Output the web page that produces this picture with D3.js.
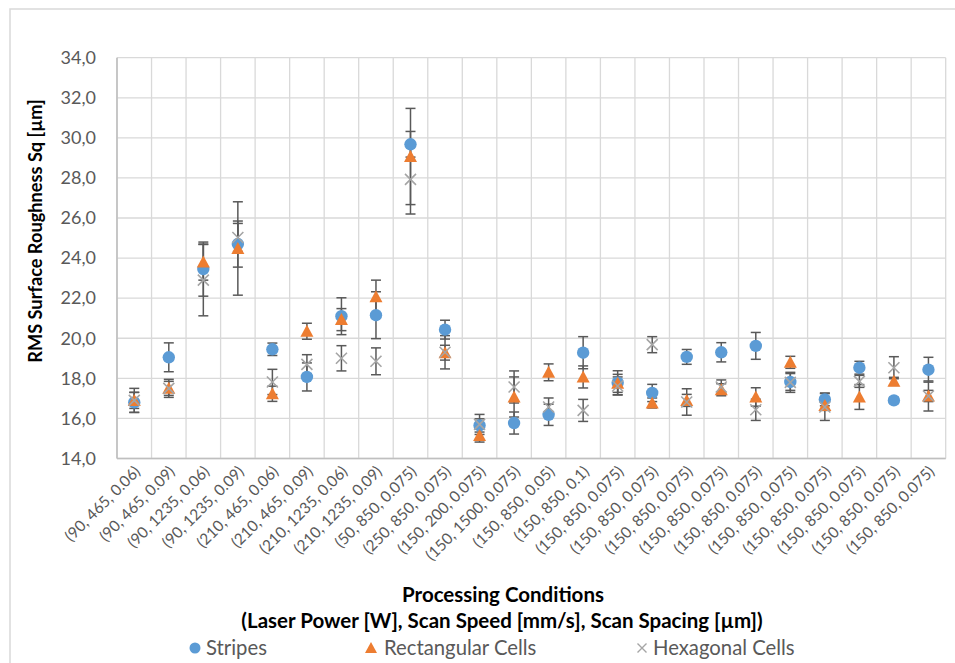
<!DOCTYPE html>
<html>
<head>
<meta charset="utf-8">
<script src="https://cdn.jsdelivr.net/npm/d3@7"></script>
<style>
  html, body { margin: 0; padding: 0; background: #ffffff; }
  svg { display: block; font-family: Lato, "Open Sans", sans-serif; }
</style>
</head>
<body>
<svg id="chart" width="955" height="663"></svg>
<script>
// Processing conditions: (Laser Power [W], Scan Speed [mm/s], Scan Spacing [µm])
const categories = [
  "(90, 465, 0.06)", "(90, 465, 0.09)", "(90, 1235, 0.06)", "(90, 1235, 0.09)",
  "(210, 465, 0.06)", "(210, 465, 0.09)", "(210, 1235, 0.06)", "(210, 1235, 0.09)",
  "(50, 850, 0.075)", "(250, 850, 0.075)", "(150, 200, 0.075)", "(150, 1500, 0.075)",
  "(150, 850, 0.05)", "(150, 850, 0.1)",
  "(150, 850, 0.075)", "(150, 850, 0.075)", "(150, 850, 0.075)", "(150, 850, 0.075)",
  "(150, 850, 0.075)", "(150, 850, 0.075)", "(150, 850, 0.075)", "(150, 850, 0.075)",
  "(150, 850, 0.075)", "(150, 850, 0.075)"
];

// Mean Sq values [µm] per scan strategy
const stripes = [16.8, 19.05, 23.45, 24.7, 19.45, 18.07, 21.1, 21.15, 29.68, 20.43, 15.65, 15.77,
  16.18, 19.28, 17.78, 17.27, 19.07, 19.3, 19.62, 17.82, 16.95, 18.53, 16.9, 18.43];
const rectangular = [16.9, 17.5, 23.8, 24.48, 17.23, 20.35, 20.93, 22.07, 29.07, 19.28, 15.15, 17.07,
  18.3, 18.07, 17.75, 16.77, 16.9, 17.43, 17.07, 18.8, 16.65, 17.07, 17.85, 17.12];
const hexagonal = [16.9, 17.5, 22.9, 25.03, 17.82, 18.7, 19.0, 18.85, 27.93, 19.3, 15.7, 17.57,
  16.57, 16.4, 17.62, 19.68, 16.82, 17.57, 16.43, 17.8, 16.57, 17.85, 18.53, 17.12];

// Standard deviations (symmetric error bars)
const stripesErr = [0.5, 0.72, 1.35, 1.15, 0.31, 0.7, 0.92, 1.17, 0.64, 0.47, 0.33, 0.55,
  0.53, 0.8, 0.6, 0.43, 0.37, 0.48, 0.67, 0.42, 0.32, 0.32, 0.15, 0.62];
const rectangularErr = [0.4, 0.35, 0.9, 2.33, 0.38, 0.4, 0.55, 0.83, 2.4, 0.37, 0.33, 1.0,
  0.42, 0.55, 0.45, 0.25, 0.3, 0.3, 0.46, 0.3, 0.25, 0.62, 0.2, 0.28];
const hexagonalErr = [0.6, 0.45, 1.78, 0.7, 0.63, 0.48, 0.63, 0.67, 1.73, 0.83, 0.5, 0.8,
  0.45, 0.55, 0.45, 0.4, 0.66, 0.35, 0.53, 0.5, 0.67, 0.3, 0.55, 0.75];

const yTicks = [14, 16, 18, 20, 22, 24, 26, 28, 30, 32, 34];
const seriesNames = ["Stripes", "Rectangular Cells", "Hexagonal Cells"];
const seriesColors = ["#5b9bd5", "#ed7d31", "#a5a5a5"];

const series = [
  { name: seriesNames[0], values: stripes, err: stripesErr, color: seriesColors[0], shape: "circle" },
  { name: seriesNames[1], values: rectangular, err: rectangularErr, color: seriesColors[1], shape: "triangle" },
  { name: seriesNames[2], values: hexagonal, err: hexagonalErr, color: seriesColors[2], shape: "cross" }
];

const svg = d3.select("#chart");
const plot = { left: 117, right: 945.7, top: 57.7, bottom: 458.5 };

const x = d3.scaleBand()
  .domain(d3.range(categories.length))
  .range([plot.left, plot.right])
  .padding(0);
const y = d3.scaleLinear().domain([14, 34]).range([plot.bottom, plot.top]);

// Chart frame
svg.append("rect")
  .attr("x", 10).attr("y", 9)
  .attr("width", 960).attr("height", 670)
  .attr("fill", "#ffffff")
  .attr("stroke", "#d9d9d9").attr("stroke-width", 1.5);

// Horizontal gridlines
svg.append("g")
  .selectAll("line")
  .data(yTicks)
  .join("line")
  .attr("x1", plot.left).attr("x2", plot.right)
  .attr("y1", d => y(d)).attr("y2", d => y(d))
  .attr("stroke", "#d9d9d9").attr("stroke-width", 1.3);

// Vertical gridlines at category boundaries
const bounds = d3.range(categories.length + 1).map(i =>
  i < categories.length ? x(i) : x(categories.length - 1) + x.bandwidth());
svg.append("g")
  .selectAll("line")
  .data(bounds)
  .join("line")
  .attr("x1", d => d).attr("x2", d => d)
  .attr("y1", plot.top).attr("y2", plot.bottom)
  .attr("stroke", "#d9d9d9").attr("stroke-width", 1.3);

// Axis lines
svg.append("line")
  .attr("x1", plot.left).attr("x2", plot.left)
  .attr("y1", plot.top).attr("y2", plot.bottom)
  .attr("stroke", "#bfbfbf").attr("stroke-width", 1.6);
svg.append("line")
  .attr("x1", plot.left).attr("x2", plot.right)
  .attr("y1", plot.bottom).attr("y2", plot.bottom)
  .attr("stroke", "#bfbfbf").attr("stroke-width", 1.6);

// Y axis tick labels
const yAxis = d3.axisLeft(y)
  .tickValues(yTicks)
  .tickSize(0)
  .tickPadding(21)
  .tickFormat(d => d.toFixed(1).replace(".", ","));
const gy = svg.append("g").attr("transform", `translate(${plot.left},0)`).call(yAxis);
gy.select(".domain").remove();
gy.selectAll("text")
  .attr("fill", "#595959")
  .style("font-size", "18px")
  .style("font-family", "Lato, sans-serif");

// X axis tick labels, rotated
const xAxis = d3.axisBottom(x)
  .tickSize(0)
  .tickFormat(i => categories[i]);
const gx = svg.append("g").attr("transform", `translate(0,${plot.bottom})`).call(xAxis);
gx.select(".domain").remove();
gx.selectAll("text")
  .attr("fill", "#595959")
  .style("font-size", "15.5px")
  .style("font-family", "Lato, sans-serif")
  .attr("text-anchor", "end")
  .attr("dy", null)
  .attr("y", 0)
  .attr("transform", "translate(7,14) rotate(-45)");

// Error bars (drawn beneath the markers)
const cap = 5;
series.forEach(s => {
  const g = svg.append("g")
    .attr("stroke", "#595959")
    .attr("stroke-width", 1.5)
    .attr("fill", "none");
  const cx = i => x(i) + x.bandwidth() / 2;
  s.values.forEach((v, i) => {
    const hi = y(v + s.err[i]), lo = y(v - s.err[i]);
    g.append("line").attr("x1", cx(i)).attr("x2", cx(i)).attr("y1", hi).attr("y2", lo);
    g.append("line").attr("x1", cx(i) - cap).attr("x2", cx(i) + cap).attr("y1", hi).attr("y2", hi);
    g.append("line").attr("x1", cx(i) - cap).attr("x2", cx(i) + cap).attr("y1", lo).attr("y2", lo);
  });
});

// Marker drawing helpers
const triPath = "M0,-6.5L6.5,5.5L-6.5,5.5Z";
function drawMarker(g, shape, color, px, py) {
  if (shape === "circle") {
    g.append("circle").attr("cx", px).attr("cy", py).attr("r", 6.2).attr("fill", color);
  } else if (shape === "triangle") {
    g.append("path").attr("d", triPath)
      .attr("transform", `translate(${px},${py})`).attr("fill", color);
  } else {
    const h = 5.5;
    g.append("path")
      .attr("d", `M${-h},${-h}L${h},${h}M${-h},${h}L${h},${-h}`)
      .attr("transform", `translate(${px},${py})`)
      .attr("stroke", color).attr("stroke-width", 1.6).attr("fill", "none");
  }
}

// Markers
series.forEach(s => {
  const g = svg.append("g").attr("class", "series");
  s.values.forEach((v, i) => {
    drawMarker(g, s.shape, s.color, x(i) + x.bandwidth() / 2, y(v));
  });
});

// Axis titles
svg.append("text")
  .attr("transform", "translate(42,231) rotate(-90)")
  .attr("text-anchor", "middle")
  .style("font-size", "18.2px").style("font-weight", "bold")
  .style("font-family", "Lato, sans-serif")
  .attr("fill", "#000000")
  .text("RMS Surface Roughness Sq [µm]");

svg.append("text")
  .attr("x", 503).attr("y", 602)
  .attr("text-anchor", "middle")
  .style("font-size", "20.5px").style("font-weight", "bold")
  .style("font-family", "Lato, sans-serif")
  .attr("fill", "#000000")
  .text("Processing Conditions");
svg.append("text")
  .attr("x", 502).attr("y", 628)
  .attr("text-anchor", "middle")
  .style("font-size", "20.5px").style("font-weight", "bold")
  .style("font-family", "Lato, sans-serif")
  .attr("fill", "#000000")
  .text("(Laser Power [W], Scan Speed [mm/s], Scan Spacing [µm])");

// Legend
const legendX = [195, 371, 642];
const legend = svg.append("g");
series.forEach((s, k) => {
  const g = legend.append("g");
  if (s.shape === "circle") {
    g.append("circle").attr("cx", legendX[k]).attr("cy", 648).attr("r", 5.5).attr("fill", s.color);
  } else if (s.shape === "triangle") {
    g.append("path").attr("d", "M0,-6L6,5L-6,5Z")
      .attr("transform", `translate(${legendX[k]},648)`).attr("fill", s.color);
  } else {
    const h = 4.5;
    g.append("path")
      .attr("d", `M${-h},${-h}L${h},${h}M${-h},${h}L${h},${-h}`)
      .attr("transform", `translate(${legendX[k]},648)`)
      .attr("stroke", s.color).attr("stroke-width", 1.4).attr("fill", "none");
  }
  g.append("text")
    .attr("x", legendX[k] + (s.shape === "triangle" ? 13 : 11)).attr("y", 655)
    .style("font-size", "20.3px")
    .style("font-family", "Lato, sans-serif")
    .attr("fill", "#595959")
    .text(s.name);
});
</script>
</body>
</html>
